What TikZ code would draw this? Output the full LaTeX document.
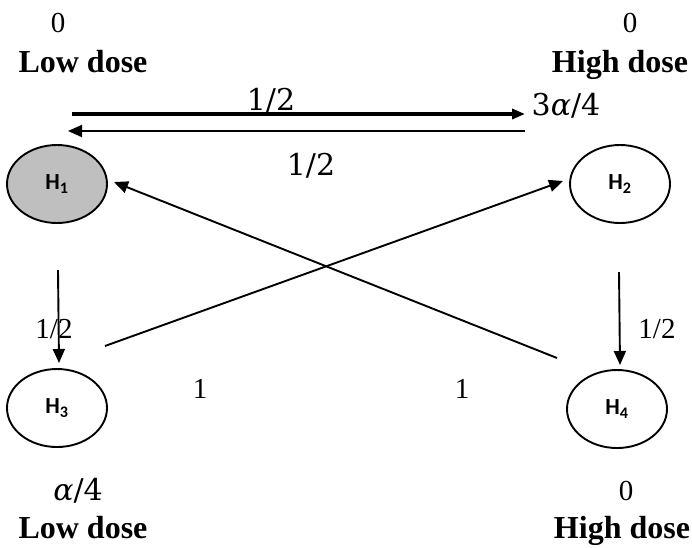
\documentclass[tikz,border=0pt]{standalone}
\usepackage{fontspec}
\setmainfont{Liberation Serif}
\newfontfamily\hfont{Carlito}
\newfontfamily\mfont{DejaVu Serif}
\usetikzlibrary{arrows.meta,shapes.geometric}
\begin{document}
\begin{tikzpicture}[x=1pt,y=-1pt,
  state/.style={ellipse,draw,line width=1.9pt,minimum width=100pt,minimum height=78pt,inner sep=0pt,font=\hfont\bfseries\fontsize{23}{25}\selectfont},
  arr/.style={line width=1.9pt,-{Triangle[length=14pt,width=12pt]}},
  thickarr/.style={line width=3.6pt,-{Triangle[length=13pt,width=10pt]}},
  dose/.style={anchor=base,font=\bfseries\fontsize{32}{36}\selectfont},
  num/.style={anchor=base,font=\fontsize{29}{32}\selectfont},
  mlbl/.style={anchor=base,font=\mfont\fontsize{30}{34}\selectfont},
]
\useasboundingbox (0,0) rectangle (692,547);

% states
\node[state,fill=black!25] (H1) at (57,184) {H\textsubscript{1}};
\node[state] (H2) at (620,184) {H\textsubscript{2}};
\node[state] (H3) at (57,408) {H\textsubscript{3}};
\node[state] (H4) at (617,409) {H\textsubscript{4}};

% top labels
\node[num] (z1) at (58,32) {0};
\node[dose] (ld1) at (83,72) {Low dose};
\node[num] (z2) at (630,32) {0};
\node[dose] (hd1) at (620,72) {High dose};

% bottom labels
\node[mlbl] (a4) at (78,500) {\textit{α}/4};
\node[dose] (ld2) at (83,538) {Low dose};
\node[num] (z3) at (626,500) {0};
\node[dose] (hd2) at (622,538) {High dose};

% connector end points
\coordinate (ts) at (72,114);
\coordinate (te) at (525,114);
\coordinate (bs) at (525,131);
\coordinate (be) at (68,131);
\coordinate (d1s) at (105,346);
\coordinate (d1e) at (563,181);
\coordinate (d2s) at (557,358);
\coordinate (d2e) at (114,182);
\coordinate (v1s) at (58,270);
\coordinate (v1e) at (59,363);
\coordinate (v2s) at (619,272);
\coordinate (v2e) at (620,365);

% connectors
\draw[thickarr] (ts) -- (te);
\draw[arr] (bs) -- (be);
\draw[arr] (d1s) -- (d1e);
\draw[arr] (d2s) -- (d2e);
\draw[arr] (v1s) -- (v1e);
\draw[arr] (v2s) -- (v2e);

% connector labels
\node[mlbl] (l1) at (271,110) {1/2};
\node[mlbl] (l2) at (566,115) {3\textit{α}/4};
\node[mlbl] (l3) at (311,175) {1/2};
\node[num] (l4) at (54,338) {1/2};
\node[num] (l5) at (657,338) {1/2};
\node[num] (l6) at (200,398) {1};
\node[num] (l7) at (462,398) {1};
\end{tikzpicture}
\end{document}
